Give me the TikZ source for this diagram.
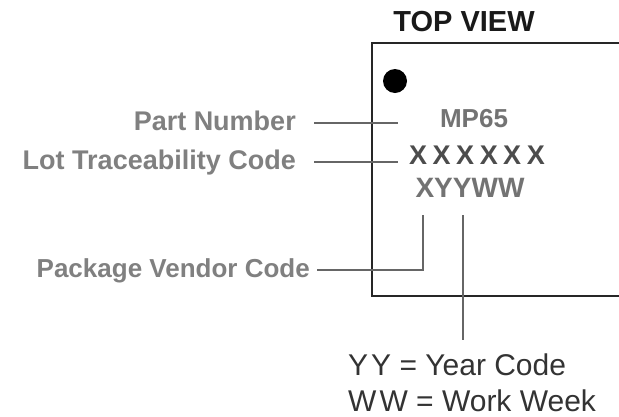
\documentclass[tikz,border=0pt]{standalone}
\usepackage{fontspec}
\setmainfont{Liberation Sans}
\usepackage{tikz}
\usetikzlibrary{positioning}

\begin{document}
\begin{tikzpicture}[x=1pt, y=-1pt,
    chip/.style={draw=black!85, line width=1.8pt},
    leader/.style={draw=black!60, line width=1.6pt},
    lbl/.style={anchor=east, inner ysep=0pt, text height=19pt, text depth=5pt,
      text=black!50, font=\bfseries\fontsize{27}{30}\selectfont},
    marking/.style={anchor=base, inner sep=0pt},
    legend/.style={anchor=base west, inner sep=0pt, text=black!80,
      font=\fontsize{30}{34}\selectfont}]
  \useasboundingbox (0,0) rectangle (619,416);
  % package outline
  \draw[chip] (619,43) -- (372,43) -- (372,296) -- (619,296);
  \node[marking, font=\bfseries\fontsize{29}{32}\selectfont, text=black!90] (topview) at (464,31) {TOP VIEW};
  \node[circle, fill=black, minimum size=24pt, inner sep=0pt] (dot) at (395,81) {};
  % marking
  \node[marking, font=\bfseries\fontsize{26}{30}\selectfont, text=black!55] (partno) at (474,127) {MP65};
  \node[marking, font=\bfseries\fontsize{27}{30}\selectfont, text=black!70] (lotno) at (477,164)
    {X\kern5.5pt X\kern5.5pt X\kern5.5pt X\kern5.5pt X\kern5.5pt X};
  \node[marking, font=\bfseries\fontsize{28}{30}\selectfont, text=black!55] (datecode) at (470,197) {XYYWW};
  % labels
  \node[lbl, inner xsep=18pt] (partlbl) at (314,123) {Part Number};
  \node[lbl, inner xsep=18pt] (lotlbl) at (314,162) {Lot Traceability Code};
  \node[lbl, inner xsep=7pt, font=\bfseries\fontsize{26}{30}\selectfont] (vendorlbl) at (317,270) {Package Vendor Code};
  \coordinate (partend) at (398,123);
  \coordinate (lotend) at (398,162);
  \coordinate (vendorend) at (423,215);
  \coordinate (yytop) at (463,215);
  \coordinate (yyend) at (463,340);
  \draw[leader] (partlbl.east) -- (partend);
  \draw[leader] (lotlbl.east) -- (lotend);
  \draw[leader] (vendorlbl.east) -| (vendorend);
  \draw[leader] (yytop) -- (yyend);
  % legend
  \node[legend] (yylbl) at (348,375) {Y\kern3pt Y = Year Code};
  \node[legend] (wwlbl) at (348,411) {W\kern3pt W = Work Week};
\end{tikzpicture}
\end{document}
